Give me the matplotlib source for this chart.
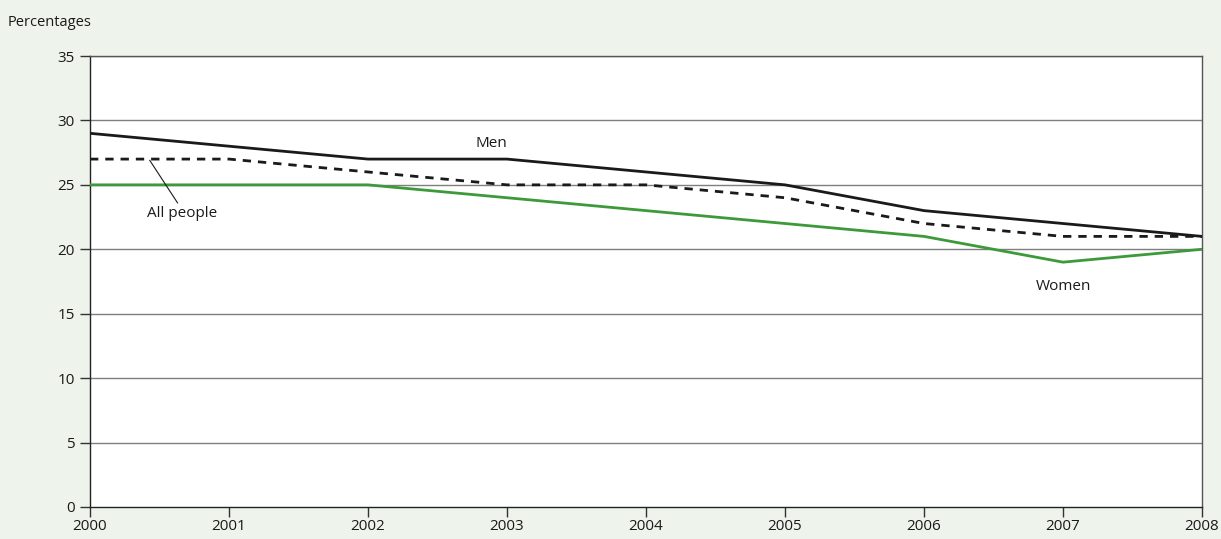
import matplotlib
matplotlib.use("Agg")
import matplotlib.pyplot as plt

years = [2000, 2001, 2002, 2003, 2004, 2005, 2006, 2007, 2008]
men = [29, 28, 27, 27, 26, 25, 23, 22, 21]
all_people = [27, 27, 26, 25, 25, 24, 22, 21, 21]
women = [25, 25, 25, 24, 23, 22, 21, 19, 20]
yticks = [0, 5, 10, 15, 20, 25, 30, 35]

plt.rcParams['font.family'] = ['Open Sans', 'DejaVu Sans']
fs = 11

bg = '#EEF3EC'
fig = plt.figure(figsize=(12.21, 5.39), dpi=100, facecolor=bg)
ax = fig.add_axes([90/1221, 1-507/539, (1202-90)/1221, (507-56)/539])
ax.set_facecolor('white')

for y in yticks[1:]:
    ax.axhline(y, color='#7f7f7f', lw=1.0, zorder=1)

ax.plot(years, women, color='#3d9a3a', lw=2.0, zorder=3)
ax.plot(years, all_people, color='#1a1a1a', lw=2.0, ls=(0, (3, 2.5)), zorder=3)
ax.plot(years, men, color='#1a1a1a', lw=2.0, zorder=4)

ax.set_xlim(2000, 2008)
ax.set_ylim(0, 35)
ax.set_xticks(years)
ax.set_yticks(yticks)
ax.tick_params(axis='both', direction='out', length=7, width=1, color='#333333',
               labelsize=fs, labelcolor='#1a1a1a')
ax.tick_params(axis='x', pad=2)
ax.tick_params(axis='y', pad=4)
for s in ['left', 'bottom']:
    ax.spines[s].set_color('#222222')
    ax.spines[s].set_linewidth(1.0)
for s in ['top', 'right']:
    ax.spines[s].set_color('#555555')
    ax.spines[s].set_linewidth(1.0)

ax.text(2002.89, 28.2, 'Men', ha='center', va='center', fontsize=fs, color='#1a1a1a')
ax.text(2000.66, 22.8, 'All people', ha='center', va='center', fontsize=fs, color='#1a1a1a')
ax.plot([2000.43, 2000.63], [26.9, 23.6], color='#1a1a1a', lw=0.8, zorder=5)
ax.text(2007.0, 17.1, 'Women', ha='center', va='center', fontsize=fs, color='#1a1a1a')

fig.text(8/1221, 1-22/539, 'Percentages', ha='left', va='center', fontsize=10.5, color='#1a1a1a')

fig.savefig('out.png', dpi=100, facecolor=bg)
